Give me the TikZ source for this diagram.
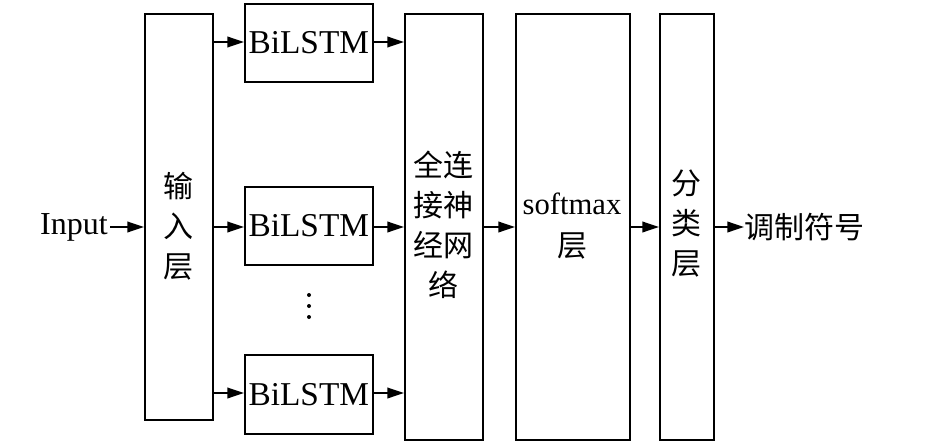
\documentclass[tikz,border=0pt]{standalone}
\usepackage{fontspec}
\setmainfont{Liberation Serif}
\newfontfamily\cjk{Noto Sans CJK SC}
\usetikzlibrary{arrows.meta}
\begin{document}
\begin{tikzpicture}[x=0.75pt,y=-0.75pt,
  blk/.style={draw,line width=1.2pt,inner sep=0pt,anchor=north west},
  arr/.style={line width=1.2pt,-{Triangle[length=12.5pt,width=8pt]}},
  lat/.style={font=\fontsize{25}{30}\selectfont,inner sep=0pt},
  zh/.style={font=\fontsize{22.5}{30}\selectfont\cjk,align=center,inner sep=0pt}]
\useasboundingbox (0,0) rectangle (945,442);
% boxes
\node[blk,minimum width=68*0.75pt,minimum height=406*0.75pt] (inl) at (144,13) {};
\node[blk,minimum width=128*0.75pt,minimum height=78*0.75pt] (b1) at (244,3) {};
\node[blk,minimum width=128*0.75pt,minimum height=78*0.75pt] (b2) at (244,186) {};
\node[blk,minimum width=128*0.75pt,minimum height=79*0.75pt] (b3) at (244,354) {};
\node[blk,minimum width=78*0.75pt,minimum height=426*0.75pt] (fc) at (404,13) {};
\node[blk,minimum width=114*0.75pt,minimum height=426*0.75pt] (sm) at (515,13) {};
\node[blk,minimum width=54*0.75pt,minimum height=426*0.75pt] (cl) at (659,13) {};
% texts
\node[lat] at (b1.center) {BiLSTM};
\node[lat] at (b2.center) {BiLSTM};
\node[lat] at (b3.center) {BiLSTM};
\node[lat,anchor=east,font=\fontsize{24}{30}\selectfont] (inp) at (108,227) {Input};
\node[zh] at (178,226) {输\\入\\层};
\node[zh] at (443,225) {全连\\接神\\经网\\络};
\node[align=center,inner sep=0pt,font=\fontsize{23}{31}\selectfont] at (572,226) {softmax\\{\cjk\fontsize{22.5}{31}\selectfont 层}};
\node[zh] at (686,224) {分\\类\\层};
\node[zh,anchor=west] (out) at (744,227) {调制符号};
% dots
\node[circle,fill,inner sep=0pt,minimum size=3pt] (d1) at (309,295) {};
\node[circle,fill,inner sep=0pt,minimum size=3pt] (d2) at (309,306) {};
\node[circle,fill,inner sep=0pt,minimum size=3pt] (d3) at (309,317) {};
% coordinates
\coordinate (i0) at (110,227);
\coordinate (o1) at (212,42);
\coordinate (o2) at (212,227);
\coordinate (o3) at (212,393);
\coordinate (f1) at (404,42);
\coordinate (f2) at (404,227);
\coordinate (f3) at (404,393);
% arrows
\draw[arr] (i0) -- (inl.west |- i0);
\draw[arr] (o1) -- (b1.west |- o1);
\draw[arr] (o2) -- (b2.west |- o2);
\draw[arr] (o3) -- (b3.west |- o3);
\draw[arr] (b1.east |- o1) -- (f1);
\draw[arr] (b2.east |- o2) -- (f2);
\draw[arr] (b3.east |- o3) -- (f3);
\draw[arr] (fc.east |- o2) -- (sm.west |- o2);
\draw[arr] (sm.east |- o2) -- (cl.west |- o2);
\draw[arr] (cl.east |- o2) -- (out.west |- o2);
\end{tikzpicture}
\end{document}
